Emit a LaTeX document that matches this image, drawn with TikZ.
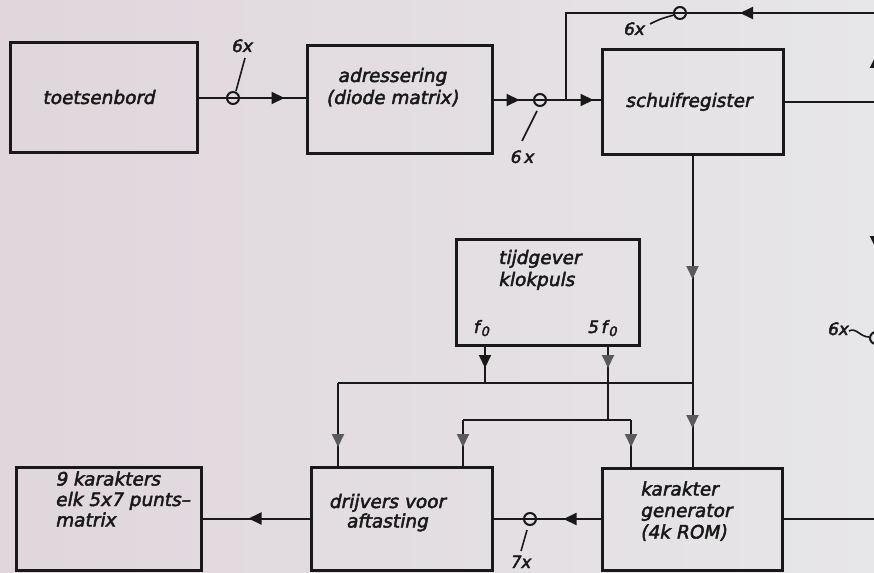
\documentclass[tikz,border=0pt]{standalone}
\usepackage{fontspec}
\setmainfont{DejaVu Sans}
\newfontfamily\diafont{DejaVu Sans}[FakeSlant=0.2, FakeBold=2.5]
\usetikzlibrary{arrows.meta,decorations.markings}
\definecolor{ink}{RGB}{25,25,25}
\definecolor{faint}{RGB}{90,90,90}
\definecolor{bgL}{RGB}{224,214,220}
\definecolor{bgR}{RGB}{231,230,233}
\begin{document}
\begin{tikzpicture}[x=1pt,y=-1pt,
  >={Triangle[length=13pt,width=12pt]},
  box/.style={draw=ink, line width=3pt, inner sep=0pt},
  wire/.style={draw=ink, line width=2pt},
  thinwire/.style={draw=ink, line width=1.6pt},
  txt/.style={inner sep=0pt, text=ink, font=\diafont\fontsize{18.5}{21.5}\selectfont, text height=13pt, text depth=4pt},
  lbl/.style={inner sep=0pt, text=ink, font=\diafont\fontsize{17}{17}\selectfont},
  ring/.style={circle, draw=ink, line width=2pt, minimum size=12pt, inner sep=0pt},
  arrowat/.style={postaction={decorate}, decoration={markings, mark=at position #1 with {\arrow{>}}}},
  faintat/.style={postaction={decorate}, decoration={markings, mark=at position #1 with {\arrow[color=faint]{>}}}}
]
\useasboundingbox (0,0) rectangle (874,572);
\shade[left color=bgL, right color=bgR] (0,0) rectangle (874,572);
\clip (0,0) rectangle (874,572);

% boxes
\node[box, minimum width=187pt, minimum height=110pt] (toets) at (103.5,98) {};
\node[box, minimum width=185pt, minimum height=108pt] (adr) at (399.5,100) {};
\node[box, minimum width=181pt, minimum height=105pt] (schuif) at (692.5,102) {};
\node[box, minimum width=183pt, minimum height=106pt] (tijd) at (547.5,292) {};
\node[box, minimum width=185pt, minimum height=103pt] (nine) at (108.5,518.5) {};
\node[box, minimum width=181pt, minimum height=103pt] (drij) at (401.5,518.5) {};
\node[box, minimum width=180pt, minimum height=102pt] (kar) at (692,519) {};

% texts
\node[txt] (t1) at (98.5,99.5) {toetsenbord};
\node[txt, align=center, font=\diafont\fontsize{18.5}{22}\selectfont] (t2) at (392,99.5) {adressering\\(diode matrix)};
\node[txt] (t3) at (688.5,102.5) {schuifregister};
\node[txt, align=left, anchor=west, font=\diafont\fontsize{18.5}{22}\selectfont] (t4) at (498,281.5) {tijdgever\\klokpuls};
\node[txt, align=left, anchor=west, font=\diafont\fontsize{18.5}{20.5}\selectfont] (t5) at (55,522) {9 karakters\\elk 5x7 punts–\\matrix};
\node[txt, align=center, font=\diafont\fontsize{18.5}{19.5}\selectfont] (t6) at (387,523) {drijvers voor\\aftasting};
\node[txt, align=left, anchor=west, font=\diafont\fontsize{18.5}{21.5}\selectfont] (t7) at (640,534) {karakter\\generator\\(4k ROM)};
\node[lbl, anchor=base west] (lf0) at (473,333) {f\kern1.5pt\raisebox{-3pt}{\fontsize{13}{13}\selectfont 0}};
\node[lbl, anchor=base west] (lf5) at (587,333) {5\,f\kern1.5pt\raisebox{-3pt}{\fontsize{13}{13}\selectfont 0}};

% junction / edge coordinates
\coordinate (j1) at (566,100);
\coordinate (eX13) at (876,13);
\coordinate (eX102) at (876,102);
\coordinate (eX519) at (876,519);
\coordinate (f0a) at (485,345);
\coordinate (f0b) at (485,383);
\coordinate (busL) at (338,383);
\coordinate (busR) at (692.5,383);
\coordinate (f5a) at (608,345);
\coordinate (f5b) at (608,420);
\coordinate (b5L) at (463,420);
\coordinate (b5R) at (631,420);

% top row
\draw[wire, arrowat=86pt] (toets.east) -- (toets.east -| adr.west);
\draw[wire, postaction={decorate}, decoration={markings,
   mark=at position 26pt with {\arrow{>}},
   mark=at position 100pt with {\arrow{>}}}] (adr.east) -- (adr.east -| schuif.west);
\draw[wire, arrowat=136pt] (eX13) -- (j1 |- eX13) -- (j1);
\draw[wire] (schuif.east) -- (eX102);
\draw[wire, arrowat=47pt] (eX102) -- (eX13);
\draw[wire, arrowat=147pt] (eX102) -- (eX519);

% vertical from schuifregister to karakter generator
\draw[wire, postaction={decorate}, decoration={markings,
   mark=at position 123pt with {\arrow[color=faint]{>}},
   mark=at position 272pt with {\arrow[color=faint]{>}}}] (schuif.south) -- (schuif.south |- kar.north);

% clock f0
\draw[wire, arrowat=23pt] (f0a) -- (f0b);
\draw[wire] (busL) -- (busR);
\draw[wire, faintat=64pt] (busL) -- (busL |- drij.north);
% clock 5f0
\draw[wire, faintat=23pt] (f5a) -- (f5b);
\draw[wire] (b5L) -- (b5R);
\draw[wire, faintat=27pt] (b5L) -- (b5L |- drij.north);
\draw[wire, faintat=27pt] (b5R) -- (b5R |- kar.north);

% bottom row
\draw[wire, arrowat=37pt] (kar.west) -- (kar.west -| drij.east);
\draw[wire, arrowat=61pt] (drij.west) -- (drij.west -| nine.east);
\draw[wire] (kar.east) -- (eX519);

% bus rings
\node[ring] (r1) at (233,98) {};
\node[ring] (r2) at (540,100) {};
\node[ring] (r3) at (680,13) {};
\node[ring] (r4) at (530,519) {};
\node[ring] (r5) at (876,338) {};

% bus width labels
\node[lbl, anchor=base] (l6a) at (241.5,52) {6x};
\node[lbl, anchor=base] (l6b) at (521.5,163) {6\,x};
\node[lbl, anchor=base] (l6c) at (633.5,35) {6x};
\node[lbl, anchor=base] (l7) at (520,568) {7x};
\node[lbl, anchor=base] (l6d) at (837.5,335) {6x};

\coordinate (s1a) at (245,58);  \coordinate (s1b) at (236,91);
\coordinate (s2a) at (537,111); \coordinate (s2b) at (522,141);
\coordinate (s3a) at (650,24);  \coordinate (s3b) at (674,15);
\coordinate (s4a) at (527,530); \coordinate (s4b) at (521,551);
\coordinate (s5a) at (849,331); \coordinate (s5b) at (869,337);
\draw[thinwire] (s1a) -- (s1b);
\draw[thinwire] (s2a) -- (s2b);
\draw[thinwire] (s3a) .. controls (660,19) .. (s3b);
\draw[thinwire] (s4a) -- (s4b);
\draw[thinwire] (s5a) .. controls (856,327) and (860,337) .. (s5b);
\end{tikzpicture}
\end{document}
